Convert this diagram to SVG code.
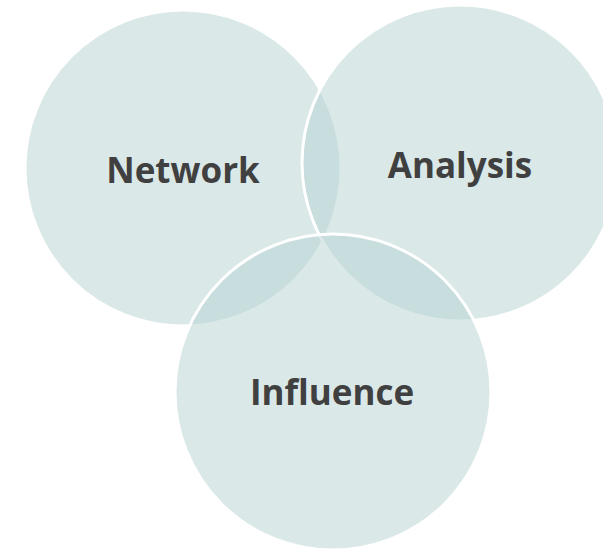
<svg xmlns="http://www.w3.org/2000/svg" width="603" height="553" viewBox="0 0 603 553">
<style>
.c{fill:#b5d1d1;fill-opacity:0.5;stroke:#ffffff;stroke-width:3}
.t{font-family:"Open Sans","Liberation Sans",sans-serif;font-weight:700;font-size:35px;fill:#404040;text-anchor:middle}
</style>
<rect width="603" height="553" fill="#ffffff"/>
<g id="network"><circle class="c" cx="183" cy="168" r="158"/><text class="t" x="183" y="183">Network</text></g>
<g id="analysis"><circle class="c" cx="460" cy="163" r="158"/><text class="t" x="460" y="178">Analysis</text></g>
<g id="influence"><circle class="c" cx="333" cy="392" r="158"/><text class="t" x="332" y="405">Influence</text></g>
<g id="connectors"/>
</svg>
